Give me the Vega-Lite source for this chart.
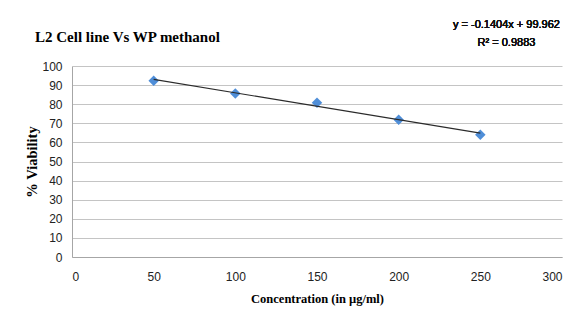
{
  "$schema": "https://vega.github.io/schema/vega-lite/v6.json",
  "autosize": "none",
  "width": 490,
  "height": 191,
  "padding": {"left": 72, "top": 66, "right": 15, "bottom": 65},
  "background": "white",
  "title": {
    "text": "L2 Cell line Vs WP methanol",
    "anchor": "start",
    "frame": "group",
    "dx": -37,
    "dy": 26,
    "offset": 0,
    "font": "Liberation Serif",
    "fontSize": 15,
    "fontWeight": "bold",
    "color": "#000000"
  },
  "data": {
    "values": [
      {"conc": 50, "viability": 92.3},
      {"conc": 100, "viability": 85.6},
      {"conc": 150, "viability": 80.8},
      {"conc": 200, "viability": 71.8},
      {"conc": 250, "viability": 64.0}
    ]
  },
  "config": {
    "view": {"stroke": null},
    "axis": {
      "labelFont": "Liberation Sans",
      "labelFontSize": 12,
      "labelColor": "#222222",
      "labelOverlap": false,
      "titleFont": "Liberation Serif",
      "titleFontWeight": "bold",
      "titleColor": "#000000",
      "domainColor": "#a6a6a6",
      "gridColor": "#c4c4c4",
      "ticks": false
    }
  },
  "layer": [
    {
      "mark": {"type": "point", "shape": "diamond", "filled": true, "size": 110, "opacity": 1, "color": "#4F8ED8"},
      "encoding": {
        "x": {
          "field": "conc",
          "type": "quantitative",
          "scale": {"domain": [0, 300], "nice": false},
          "axis": {"values": [0, 50, 100, 150, 200, 250, 300], "grid": false, "labelPadding": 14, "title": "Concentration (in µg/ml)", "titleFontSize": 12.5, "titlePadding": 10}
        },
        "y": {
          "field": "viability",
          "type": "quantitative",
          "scale": {"domain": [0, 100], "nice": false},
          "axis": {"values": [0, 10, 20, 30, 40, 50, 60, 70, 80, 90, 100], "grid": true, "labelPadding": 10, "title": "% Viability", "titleFontSize": 14.5, "titlePadding": 2}
        }
      }
    },
    {
      "transform": [
        {"regression": "viability", "on": "conc", "extent": [50, 250]}
      ],
      "mark": {"type": "line", "color": "#2b2b2b", "strokeWidth": 1.2},
      "encoding": {
        "x": {
          "field": "conc",
          "type": "quantitative",
          "axis": {"values": [0, 50, 100, 150, 200, 250, 300], "grid": false, "labelPadding": 14, "title": "Concentration (in µg/ml)", "titleFontSize": 12.5, "titlePadding": 10}
        },
        "y": {
          "field": "viability",
          "type": "quantitative",
          "axis": {"values": [0, 10, 20, 30, 40, 50, 60, 70, 80, 90, 100], "grid": true, "labelPadding": 10, "title": "% Viability", "titleFontSize": 14.5, "titlePadding": 2}
        }
      }
    },
    {
      "mark": {"type": "text", "font": "Liberation Sans", "fontSize": 11, "fontWeight": "normal", "align": "center", "baseline": "middle", "color": "#111111", "clip": false},
      "encoding": {
        "x": {"datum": 266, "type": "quantitative", "axis": {"values": [0, 50, 100, 150, 200, 250, 300], "grid": false, "labelPadding": 14, "title": "Concentration (in µg/ml)", "titleFontSize": 12.5, "titlePadding": 10}},
        "y": {"datum": 121.5, "type": "quantitative", "axis": {"values": [0, 10, 20, 30, 40, 50, 60, 70, 80, 90, 100], "grid": true, "labelPadding": 10, "title": "% Viability", "titleFontSize": 14.5, "titlePadding": 2}},
        "text": {"value": "y = -0.1404x + 99.962"}
      }
    },
    {
      "mark": {"type": "text", "font": "Liberation Sans", "fontSize": 11, "fontWeight": "normal", "align": "center", "baseline": "middle", "color": "#111111", "clip": false},
      "encoding": {
        "x": {"datum": 266, "type": "quantitative", "axis": {"values": [0, 50, 100, 150, 200, 250, 300], "grid": false, "labelPadding": 14, "title": "Concentration (in µg/ml)", "titleFontSize": 12.5, "titlePadding": 10}},
        "y": {"datum": 112, "type": "quantitative", "axis": {"values": [0, 10, 20, 30, 40, 50, 60, 70, 80, 90, 100], "grid": true, "labelPadding": 10, "title": "% Viability", "titleFontSize": 14.5, "titlePadding": 2}},
        "text": {"value": "R² = 0.9883"}
      }
    }
  ]
}
